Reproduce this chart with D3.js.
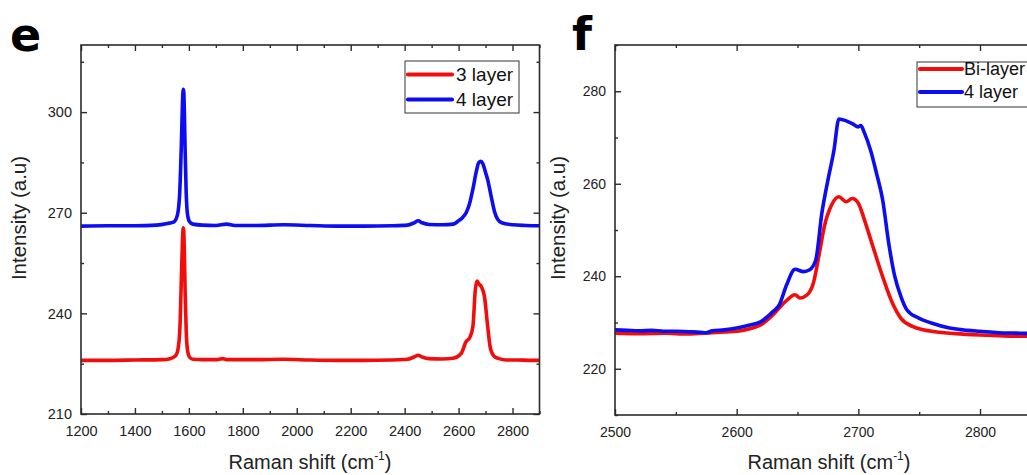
<!DOCTYPE html>
<html>
<head>
<meta charset="utf-8">
<script src="https://cdn.jsdelivr.net/npm/d3@7"></script>
<style>
  html, body { margin: 0; padding: 0; background: #fff; overflow: hidden; }
  svg { display: block; font-family: "Liberation Sans", Arial, sans-serif; }
</style>
</head>
<body>
<svg id="fig" width="1027" height="475"></svg>
<script>
// ---- Panel e: full Raman spectra (cm^-1, intensity a.u.) ----
const shiftE = [1200,1300,1400,1480,1520,1545,1558,1566,1572,1576,1579,1581,1583,1586,1590,1595,1602,1615,1650,1700,1740,1770,1850,1950,2050,2150,2250,2350,2410,2435,2450,2465,2490,2540,2580,2600,2615,2628,2640,2653,2665,2675,2682,2690,2700,2708,2721,2733,2745,2760,2800,2850,2900];
const layer4E = [266.0,266.1,266.1,266.3,266.8,267.3,269.5,276,290,302,306.8,306,301,289,276,269.5,267.4,266.6,266.3,266.2,266.6,266.2,266.2,266.4,266.2,266.0,266.0,266.1,266.3,267.0,267.6,267.0,266.5,266.4,266.6,267.6,268.6,270.0,272.5,277.0,282.0,285.0,285.3,284.6,282.0,279.8,274.8,270.4,268.0,267.0,266.4,266.2,266.1];

const shiftE3 = [1200,1300,1400,1500,1530,1550,1560,1567,1572,1576,1579,1581,1583,1586,1590,1595,1602,1615,1650,1700,1725,1745,1850,1950,2050,2150,2250,2350,2410,2435,2450,2465,2490,2540,2579,2610,2628,2641,2653,2662,2668,2675,2684,2696,2708,2718,2733,2750,2777,2820,2860,2900];
const layer3E = [226.0,226.0,226.1,226.2,226.5,227.3,229.5,236,250,261,265.5,264.5,259,247,235,229.0,227.0,226.3,226.2,226.2,226.5,226.2,226.2,226.3,226.1,226.0,226.0,226.1,226.3,227.0,227.5,227.0,226.5,226.4,226.6,228.1,231.6,232.7,236.0,247.0,249.6,248.8,248.0,245.0,236.0,229.6,227.1,226.5,226.1,226.1,226.0,226.0];

const xTicksE = [1200,1400,1600,1800,2000,2200,2400,2600,2800];
const xMinorE = [1300,1500,1700,1900,2100,2300,2500,2700,2900];
const yTicksE = [210,240,270,300];
const yMinorE = [225,255,285,315];
const legendE = ["3 layer","4 layer"];

// ---- Panel f: 2D band detail ----
const shiftF = [2500,2510,2520,2530,2540,2550,2560,2570,2575,2580,2590,2600,2610,2620,2630,2635,2641,2648,2655,2660,2665,2670,2675,2680,2684,2690,2695,2700,2702,2705,2710,2715,2720,2725,2730,2735,2740,2750,2760,2775,2790,2800,2815,2830,2850];
const layer4F = [228.4,228.3,228.2,228.3,228.1,228.1,228.0,227.9,227.8,228.2,228.4,228.8,229.4,230.2,232.4,233.8,238.1,241.5,241.0,241.4,243.5,253.6,260.8,267.3,274.0,273.6,273.0,272.3,272.6,271.0,267.3,262.2,256.5,247.1,239.9,235.6,232.7,230.9,229.9,228.8,228.3,228.1,227.8,227.7,227.6];

const shiftBi = [2500,2520,2540,2560,2580,2600,2610,2620,2630,2640,2648,2652,2658,2663,2668,2672,2678,2684,2690,2695,2700,2705,2712,2720,2728,2735,2745,2760,2780,2800,2820,2850];
const bilayerF = [227.7,227.6,227.7,227.5,227.8,228.1,228.6,229.5,231.7,234.5,236.0,235.3,236.0,238.5,245.0,250.7,255.4,257.2,256.1,256.8,255.8,252.2,246.4,239.9,234.2,230.9,229.1,228.1,227.6,227.3,227.1,227.0];

const xTicksF = [2500,2600,2700,2800];
const xMinorF = [2550,2650,2750,2850];
const yTicksF = [220,240,260,280];
const yMinorF = [210,230,250,270,290];
const legendF = ["Bi-layer","4 layer"];

const RED = "#f20d0d", BLUE = "#0d0df2", AXIS = "#2b2b2b";

const svg = d3.select("#fig");

function panel(cfg) {
  const x = d3.scaleLinear().domain(cfg.xDomain).range(cfg.xRange);
  const y = d3.scaleLinear().domain(cfg.yDomain).range(cfg.yRange);
  const g = svg.append("g");
  const [x0, x1] = cfg.xRange, [y0, y1] = cfg.yRange;

  const clipId = cfg.id + "-clip";
  svg.append("defs").append("clipPath").attr("id", clipId)
    .append("rect").attr("x", x0).attr("y", y1).attr("width", x1 - x0).attr("height", y0 - y1);

  // spectra
  const line = d3.line().x(d => x(d[0])).y(d => y(d[1])).curve(d3.curveMonotoneX);
  const plot = g.append("g").attr("clip-path", `url(#${clipId})`);
  cfg.series.forEach(s => {
    plot.append("path")
      .datum(d3.zip(s.x, s.y))
      .attr("d", line)
      .attr("fill", "none")
      .attr("stroke", s.color)
      .attr("stroke-width", 3.6)
      .attr("stroke-linejoin", "round")
      .attr("stroke-linecap", "round");
  });

  // axes: bottom/left labelled, top/right mirrored, all ticks inward
  const major = 6, minor = 3;
  const bottom = d3.axisBottom(x).tickValues(cfg.xTicks).tickSize(-major).tickPadding(12).tickFormat(d3.format("d"));
  const left = d3.axisLeft(y).tickValues(cfg.yTicks).tickSize(-major).tickPadding(9).tickFormat(d3.format("d"));
  const top = d3.axisTop(x).tickValues(cfg.xTicks).tickSize(-major).tickFormat("");
  const right = d3.axisRight(y).tickValues(cfg.yTicks).tickSize(-major).tickFormat("");
  const bMin = d3.axisBottom(x).tickValues(cfg.xMinor).tickSize(-minor).tickFormat("");
  const lMin = d3.axisLeft(y).tickValues(cfg.yMinor).tickSize(-minor).tickFormat("");
  const tMin = d3.axisTop(x).tickValues(cfg.xMinor).tickSize(-minor).tickFormat("");
  const rMin = d3.axisRight(y).tickValues(cfg.yMinor).tickSize(-minor).tickFormat("");

  const place = [
    [bottom, `translate(0,${y0})`], [bMin, `translate(0,${y0})`],
    [top, `translate(0,${y1})`], [tMin, `translate(0,${y1})`],
    [left, `translate(${x0},0)`], [lMin, `translate(${x0},0)`],
    [right, `translate(${x1},0)`], [rMin, `translate(${x1},0)`]
  ];
  place.forEach(([ax, tr]) => {
    const a = g.append("g").attr("transform", tr).call(ax);
    a.select(".domain").remove();
    a.selectAll(".tick line").attr("stroke", AXIS).attr("stroke-width", 1.4);
    a.selectAll(".tick text").attr("fill", "#222")
      .style("font-family", '"Liberation Sans", Arial, sans-serif');
  });

  // frame
  g.append("rect").attr("x", x0).attr("y", y1).attr("width", x1 - x0).attr("height", y0 - y1)
    .attr("fill", "none").attr("stroke", AXIS).attr("stroke-width", 1.6);

  return { g, x, y };
}

// ---- Panel e ----
const pe = panel({
  id: "pe",
  xDomain: [1200, 2900], xRange: [81, 539.5],
  yDomain: [210, 320], yRange: [414, 45],
  xTicks: xTicksE, xMinor: xMinorE, yTicks: yTicksE, yMinor: yMinorE,
  series: [
    { x: shiftE, y: layer4E, color: BLUE },
    { x: shiftE3, y: layer3E, color: RED }
  ]
});
pe.g.selectAll(".tick text").style("font-size", "14.5px");

// ---- Panel f ----
const pf = panel({
  id: "pf",
  xDomain: [2500, 2850], xRange: [615, 615 + 350 * 1.2167],
  yDomain: [210, 290], yRange: [415, 45],
  xTicks: xTicksF, xMinor: xMinorF, yTicks: yTicksF, yMinor: yMinorF,
  series: [
    { x: shiftBi, y: bilayerF, color: RED },
    { x: shiftF, y: layer4F, color: BLUE }
  ]
});
pf.g.selectAll(".tick text").style("font-size", "14px");

// ---- axis titles ----
function yTitle(cx, cy) {
  svg.append("text")
    .attr("transform", `translate(${cx},${cy}) rotate(-90)`)
    .attr("text-anchor", "middle").attr("dominant-baseline", "central")
    .attr("font-size", 20.5).attr("fill", "#222")
    .text("Intensity (a.u)");
}
function xTitle(cx, by) {
  const t = svg.append("text").attr("x", cx).attr("y", by)
    .attr("text-anchor", "middle").attr("font-size", 20).attr("fill", "#222");
  t.append("tspan").text("Raman shift (cm");
  t.append("tspan").attr("font-size", 12).attr("dy", -9).text("-1");
  t.append("tspan").attr("dy", 9).text(")");
}
yTitle(18, 218);
yTitle(557, 218);
xTitle(310, 469);
xTitle(829, 469);

// ---- panel letters ----
svg.append("text").attr("x", 10).attr("y", 51)
  .attr("font-family", '"DejaVu Sans", sans-serif').attr("font-weight", "bold")
  .attr("font-size", 46).attr("fill", "#000").text("e");
svg.append("text").attr("x", 572).attr("y", 50)
  .attr("font-family", '"DejaVu Sans", sans-serif').attr("font-weight", "bold")
  .attr("font-size", 46).attr("fill", "#000").text("f");

// ---- legends ----
function legend(box, items, colors, rowY, lineX, textX, fs) {
  svg.append("rect").attr("x", box[0]).attr("y", box[1]).attr("width", box[2]).attr("height", box[3])
    .attr("fill", "#fff").attr("stroke", "#555").attr("stroke-width", 1.2);
  items.forEach((name, i) => {
    svg.append("line").attr("x1", lineX[0]).attr("x2", lineX[1])
      .attr("y1", rowY[i]).attr("y2", rowY[i])
      .attr("stroke", colors[i]).attr("stroke-width", 4.2).attr("stroke-linecap", "round");
    svg.append("text").attr("x", textX).attr("y", rowY[i]).attr("dominant-baseline", "central")
      .attr("font-size", fs).attr("fill", "#111").text(name);
  });
}
legend([405, 61, 114, 52], legendE, [RED, BLUE], [74.5, 99.5], [408, 452], 456, 19);
legend([917, 62, 130, 45], legendF, [RED, BLUE], [69, 92], [920, 962], 964, 18);
</script>
</body>
</html>
